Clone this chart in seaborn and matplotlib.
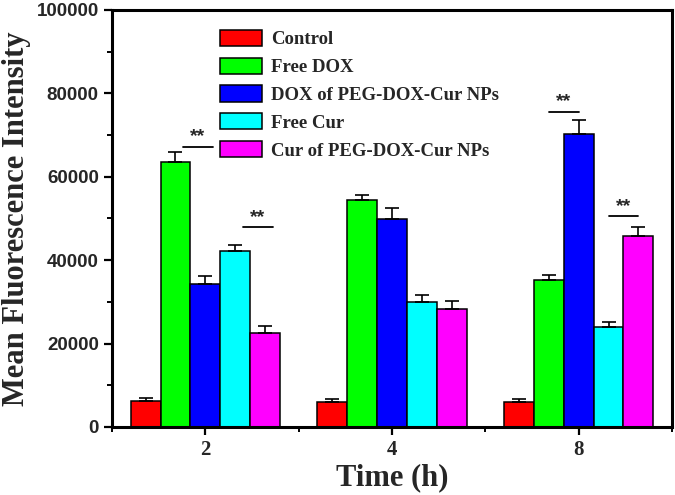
import numpy as np
import pandas as pd
import matplotlib
matplotlib.use("Agg")
import matplotlib.pyplot as plt
import seaborn as sns
from matplotlib.ticker import MultipleLocator, FixedLocator

times = ["2", "4", "8"]
groups = ["Control", "Free DOX", "DOX of PEG-DOX-Cur NPs", "Free Cur", "Cur of PEG-DOX-Cur NPs"]
control = [6240, 6070, 6000]
free_dox = [63600, 54440, 35300]
dox_np = [34300, 49900, 70300]
free_cur = [42200, 30070, 24000]
cur_np = [22550, 28300, 45800]
control_err = [700, 650, 700]
free_dox_err = [2400, 1100, 1200]
dox_np_err = [1900, 2500, 3400]
free_cur_err = [1450, 1550, 1200]
cur_np_err = [1700, 1900, 2200]
colors = ["#FF0000", "#00FF00", "#0000FF", "#00FFFF", "#FF00FF"]
# significance: (time index, group a, group b, line y)
sig_time = [0, 0, 2, 2]
sig_a = [1, 3, 1, 3]
sig_b = [2, 4, 2, 4]
sig_y = [67200, 48000, 75600, 50600]

values = [control, free_dox, dox_np, free_cur, cur_np]
errs = [control_err, free_dox_err, dox_np_err, free_cur_err, cur_np_err]
rows = []
for g, vals in zip(groups, values):
    for t, v in zip(times, vals):
        rows.append({"Time": t, "Group": g, "Value": v})
df = pd.DataFrame(rows)

sns.set_theme(style="white")
plt.rcParams["font.family"] = ["Liberation Serif", "DejaVu Serif"]

fig = plt.figure(figsize=(6.75, 4.95), dpi=100)
ax = fig.add_axes([0.1659, 0.1374, 0.8297, 0.8424])

sns.barplot(data=df, x="Time", y="Value", hue="Group", order=times, hue_order=groups,
            palette=colors, edgecolor="black", linewidth=1.1, errorbar=None,
            width=0.8, saturation=1, ax=ax)

for cont, e in zip(ax.containers, errs):
    xs = [p.get_x() + p.get_width() / 2 for p in cont]
    hs = [p.get_height() for p in cont]
    ax.errorbar(xs, hs, yerr=[np.zeros(len(e)), e], fmt="none", ecolor="black",
                elinewidth=1.2, capsize=5.2, capthick=1.2, zorder=3)

for ti, a, b, y in zip(sig_time, sig_a, sig_b, sig_y):
    pa = ax.containers[a][ti]
    pb = ax.containers[b][ti]
    shift = 0.25 * pa.get_width() if ti == 0 else 0.0
    xa = pa.get_x() + pa.get_width() / 2 + shift
    xb = pb.get_x() + pb.get_width() / 2 + shift
    ax.plot([xa, xb], [y, y], color="black", lw=1.3)
    ax.text((xa + xb) / 2, y + 300, "**", ha="center", va="bottom",
            fontsize=14, fontweight="bold", family=["Liberation Sans"])

ax.set_xlim(-0.5, 2.5)
ax.set_ylim(0, 100000)
ax.yaxis.set_major_locator(MultipleLocator(20000))
ax.yaxis.set_minor_locator(MultipleLocator(10000))
ax.xaxis.set_minor_locator(FixedLocator([-0.5, 0.5, 1.5, 2.5]))

for s in ax.spines.values():
    s.set_linewidth(2.2)
    s.set_color("black")

ax.tick_params(axis="both", which="major", direction="out", length=6, width=1.6,
               color="black", bottom=True, left=True)
ax.tick_params(axis="both", which="minor", direction="out", length=3.5, width=1.4,
               color="black", bottom=True, left=True)
for lab in ax.get_yticklabels():
    lab.set_family(["Liberation Sans"])
    lab.set_fontweight("bold")
    lab.set_fontsize(13.5)
for lab in ax.get_xticklabels():
    lab.set_family(["Liberation Serif"])
    lab.set_fontweight("bold")
    lab.set_fontsize(15)

ax.set_xlabel("Time (h)", fontsize=22, fontweight="bold", labelpad=2)
ax.set_ylabel("Mean Fluorescence Intensity", fontsize=22, fontweight="bold", labelpad=4)

leg = ax.legend(loc="upper left", bbox_to_anchor=(0.193, 0.953), frameon=False,
                prop={"family": "Liberation Serif", "weight": "bold", "size": 13.5},
                handlelength=2.25, handleheight=0.95, handletextpad=0.45,
                labelspacing=0.5, borderpad=0, borderaxespad=0)
for h in leg.legend_handles:
    h.set_edgecolor("black")
    h.set_linewidth(1.1)

fig.savefig("out.png", dpi=100)
